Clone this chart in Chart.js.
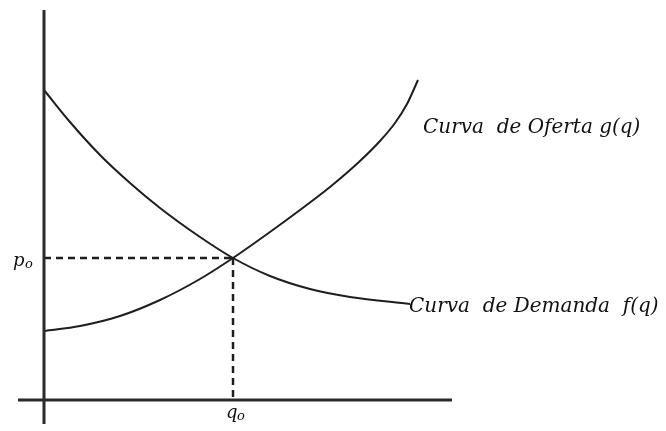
<!DOCTYPE html>
<html>
<head>
<meta charset="utf-8">
<script src="https://cdn.jsdelivr.net/npm/chart.js@4"></script>
<style>
  body { margin: 0; background: #fff; }
  canvas { display: block; }
</style>
</head>
<body>
<canvas id="grafico" width="666" height="431"></canvas>
<script>
// curva de demanda f(q): cantidad q, precio p
const demandaQ = [0, 2.6, 5.6, 8.6, 11.6, 15.6, 18.9, 22.6, 26.6, 30.6, 36.6];
const demandaP = [31.0, 27.8, 24.5, 21.7, 19.2, 16.3, 14.2, 12.4, 11.1, 10.3, 9.6];

// curva de oferta g(q)
const ofertaQ = [0, 3.6, 7.6, 11.6, 15.6, 18.9, 22.6, 25.6, 28.6, 31.6, 33.6, 35.1, 36.3, 37.4];
const ofertaP = [6.9, 7.4, 8.4, 10.0, 12.1, 14.2, 16.8, 19.0, 21.3, 23.9, 25.9, 27.7, 29.6, 32.0];

// punto de equilibrio
const q0 = 18.9;
const p0 = 14.2;

const etiquetas = ['Curva  de Oferta g(q)', 'Curva  de Demanda  f(q)'];

function puntos(xs, ys) {
    return xs.map((x, i) => ({ x: x, y: ys[i] }));
}

const colorLinea = '#1e1e1e';

const datasets = [
    {   // eje vertical
        data: [{ x: 0, y: -2.4 }, { x: 0, y: 39 }],
        borderColor: '#2a2a2a', borderWidth: 3
    },
    {   // eje horizontal
        data: [{ x: -2.6, y: 0 }, { x: 40.8, y: 0 }],
        borderColor: '#2a2a2a', borderWidth: 3
    },
    {
        data: puntos(demandaQ, demandaP),
        borderColor: colorLinea, borderWidth: 2, cubicInterpolationMode: 'monotone'
    },
    {
        data: puntos(ofertaQ, ofertaP),
        borderColor: colorLinea, borderWidth: 2, cubicInterpolationMode: 'monotone'
    },
    {   // guias punteadas
        data: [{ x: 0, y: p0 }, { x: q0, y: p0 }],
        borderColor: colorLinea, borderWidth: 2.5, borderDash: [7, 5]
    },
    {
        data: [{ x: q0, y: p0 }, { x: q0, y: 0 }],
        borderColor: colorLinea, borderWidth: 2.5, borderDash: [7, 5]
    }
];

const textos = {
    id: 'textos',
    afterDraw(chart) {
        const ctx = chart.ctx;
        const sx = chart.scales.x;
        const sy = chart.scales.y;
        ctx.save();
        ctx.fillStyle = '#111';
        ctx.textBaseline = 'alphabetic';
        ctx.font = 'italic 18px "DejaVu Serif"';

        // p0
        let x = sx.getPixelForValue(0) - 31;
        let y = sy.getPixelForValue(p0) + 8;
        ctx.fillText('p', x, y);
        ctx.font = 'italic 13px "DejaVu Serif"';
        ctx.fillText('o', x + 12, y + 2);

        // q0
        ctx.font = 'italic 18px "DejaVu Serif"';
        x = sx.getPixelForValue(q0) - 7;
        y = sy.getPixelForValue(0) + 18;
        ctx.fillText('q', x, y);
        ctx.font = 'italic 13px "DejaVu Serif"';
        ctx.fillText('o', x + 11, y + 2);

        // etiquetas de curvas
        ctx.font = 'italic 20px "DejaVu Serif"';
        const io = ofertaQ.length - 1;
        ctx.fillText(etiquetas[0], sx.getPixelForValue(ofertaQ[io]) + 5, sy.getPixelForValue(ofertaP[io]) + 53);
        const id = demandaQ.length - 1;
        ctx.fillText(etiquetas[1], sx.getPixelForValue(demandaQ[id]) - 1, sy.getPixelForValue(demandaP[id]) + 8);
        ctx.restore();
    }
};

new Chart(document.getElementById('grafico').getContext('2d'), {
    type: 'scatter',
    data: { datasets: datasets },
    options: {
        responsive: false,
        animation: false,
        showLine: true,
        layout: { padding: 0 },
        elements: { point: { radius: 0 } },
        plugins: { legend: { display: false }, tooltip: { enabled: false } },
        scales: {
            x: { type: 'linear', min: -4.4, max: 62.2, display: false },
            y: { type: 'linear', min: -3.1, max: 40, display: false }
        }
    },
    plugins: [textos]
});
</script>
</body>
</html>
